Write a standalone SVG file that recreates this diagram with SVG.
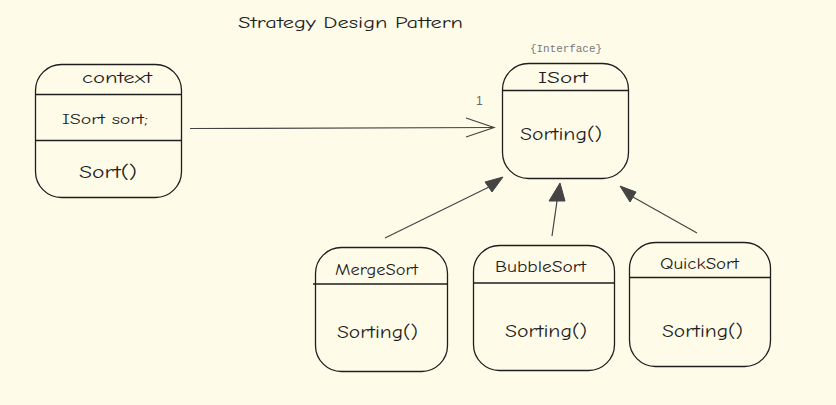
<svg xmlns="http://www.w3.org/2000/svg" width="836" height="405" viewBox="0 0 836 405">
  <defs>
    <style>
      .box { fill: none; stroke: #1e1e1e; stroke-width: 1.3; }
      .div { stroke: #1e1e1e; stroke-width: 1.3; }
      .t { font-family: "Comic Neue", "Noto Sans", "Liberation Sans", sans-serif; fill: #1e1e1e; }
      .conn { stroke: #444; stroke-width: 1.2; fill: none; }
      .head { fill: #444; stroke: #444; stroke-width: 1; stroke-linejoin: round; }
    </style>
  </defs>
  <rect width="836" height="405" fill="#fefce9"/>
  <text class="t" x="238" y="28" font-size="15" textLength="225" lengthAdjust="spacingAndGlyphs" fill="#333">Strategy Design Pattern</text>

  <g id="context">
    <rect class="box" x="35.5" y="64.5" width="146" height="133" rx="26"/>
    <line class="div" x1="36" y1="94.5" x2="181" y2="94.5"/>
    <line class="div" x1="36" y1="140.5" x2="181" y2="140.5"/>
    <text class="t" x="82" y="83" font-size="16" textLength="70" lengthAdjust="spacingAndGlyphs">context</text>
    <text class="t" x="62" y="124" font-size="14" textLength="86" lengthAdjust="spacingAndGlyphs">ISort sort;</text>
    <text class="t" x="79" y="178" font-size="17" textLength="58" lengthAdjust="spacingAndGlyphs">Sort()</text>
  </g>

  <g id="isort">
    <text x="530" y="52" font-family="Liberation Mono, monospace" font-size="11" fill="#777" textLength="72" lengthAdjust="spacingAndGlyphs">{Interface}</text>
    <rect class="box" x="502.5" y="63.5" width="126" height="115" rx="26"/>
    <line class="div" x1="503" y1="90.5" x2="628" y2="90.5"/>
    <text class="t" x="538" y="83" font-size="16" textLength="50" lengthAdjust="spacingAndGlyphs">ISort</text>
    <text class="t" x="520" y="140" font-size="17" textLength="82" lengthAdjust="spacingAndGlyphs">Sorting()</text>
  </g>

  <g id="mergesort">
    <rect class="box" x="315.5" y="247.5" width="132" height="124" rx="26"/>
    <line class="div" x1="313" y1="284" x2="448" y2="284"/>
    <text class="t" x="335" y="275" font-size="15" textLength="83" lengthAdjust="spacingAndGlyphs">MergeSort</text>
    <text class="t" x="337" y="338" font-size="17" textLength="81" lengthAdjust="spacingAndGlyphs">Sorting()</text>
  </g>

  <g id="bubblesort">
    <rect class="box" x="473.5" y="245.5" width="141" height="125" rx="26"/>
    <line class="div" x1="474" y1="283" x2="615" y2="283"/>
    <text class="t" x="495" y="272" font-size="15" textLength="91" lengthAdjust="spacingAndGlyphs">BubbleSort</text>
    <text class="t" x="505" y="337" font-size="17" textLength="82" lengthAdjust="spacingAndGlyphs">Sorting()</text>
  </g>

  <g id="quicksort">
    <rect class="box" x="629.5" y="242.5" width="141" height="124" rx="26"/>
    <line class="div" x1="630" y1="277.5" x2="771" y2="277.5"/>
    <text class="t" x="660" y="269" font-size="15" textLength="79" lengthAdjust="spacingAndGlyphs">QuickSort</text>
    <text class="t" x="662" y="337" font-size="17" textLength="81" lengthAdjust="spacingAndGlyphs">Sorting()</text>
  </g>

  <g id="connectors">
    <line class="conn" x1="190" y1="128.5" x2="493" y2="127.5"/>
    <polyline class="conn" points="466,118 494,127.5 466,137"/>
    <text x="476" y="105" font-family="Liberation Sans, sans-serif" font-size="12" fill="#666">1</text>

    <line class="conn" x1="385" y1="238" x2="489" y2="187"/>
    <polygon class="head" points="503,177 485,182 492,192"/>

    <line class="conn" x1="552" y1="236" x2="557" y2="201"/>
    <polygon class="head" points="560,183 549,201 565,201"/>

    <line class="conn" x1="697" y1="233" x2="633" y2="197"/>
    <polygon class="head" points="620,186 630,202 636,192"/>
  </g>
</svg>
